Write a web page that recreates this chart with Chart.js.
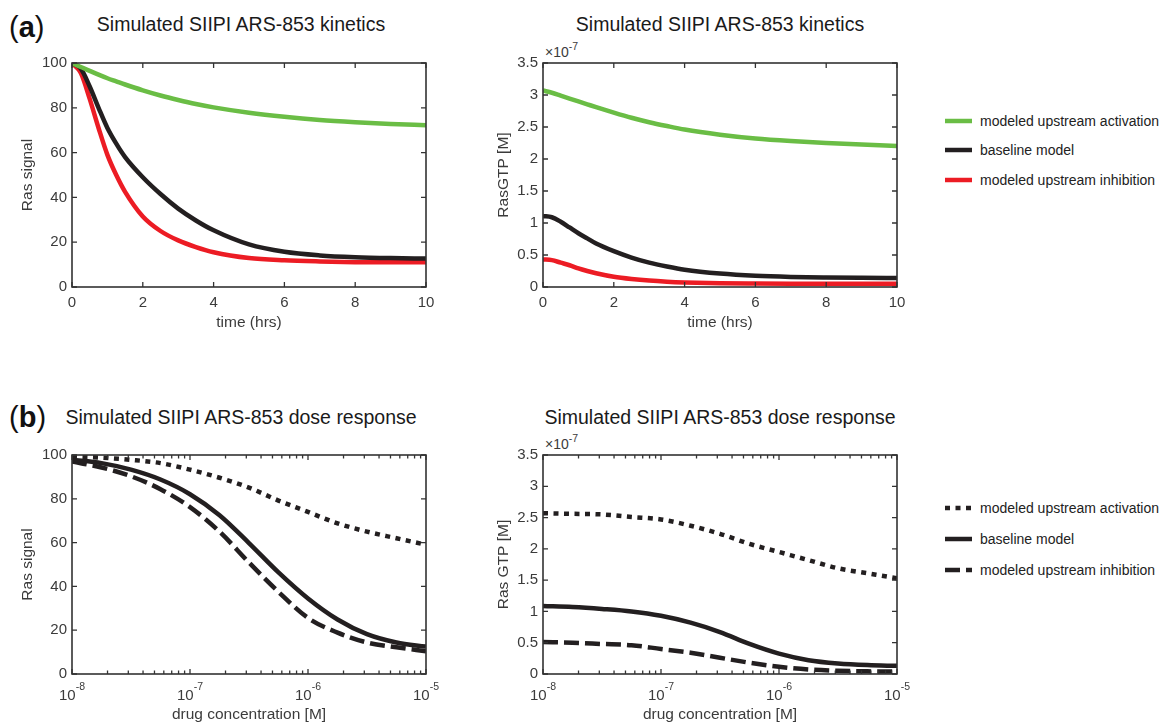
<!DOCTYPE html>
<html>
<head>
<meta charset="utf-8">
<title>Simulated SIIPI ARS-853</title>
<script src="https://cdn.jsdelivr.net/npm/chart.js@4.4.1/dist/chart.umd.min.js"></script>
<style>
    body {
        margin: 0;
        width: 1162px;
        height: 723px;
        position: relative;
        overflow: hidden;
        background: #fff;
        font-family: "Liberation Sans", Arial, Helvetica, sans-serif;
    }
    canvas { position: absolute; }
    .title {
        position: absolute;
        font-size: 19.5px;
        color: #1a1a1a;
        white-space: nowrap;
        transform: translate(-50%, -50%);
    }
    .panel {
        position: absolute;
        left: 9px;
        font-size: 29px;
        line-height: 30px;
        color: #111;
    }
    .panel b { font-weight: bold; }
    .exp {
        position: absolute;
        font-size: 14px;
        line-height: 14px;
        color: #3b3b3b;
        white-space: nowrap;
    }
    .exp span { position: relative; top: -7px; font-size: 10.5px; }
    .legend-row {
        position: absolute;
        left: 945px;
        height: 20px;
        display: flex;
        align-items: center;
        font-size: 14px;
        color: #222;
        white-space: nowrap;
    }
    .legend-row svg { margin-right: 8px; }
</style>
</head>
<body>

<div class="panel" style="top:12px">(<b>a</b>)</div>
<div class="panel" style="top:402px">(<b>b</b>)</div>

<div class="title" style="left:241px; top:24px">Simulated SIIPI ARS-853 kinetics</div>
<div class="title" style="left:720px; top:24px">Simulated SIIPI ARS-853 kinetics</div>
<div class="title" style="left:241px; top:417px">Simulated SIIPI ARS-853 dose response</div>
<div class="title" style="left:720px; top:417px">Simulated SIIPI ARS-853 dose response</div>

<div class="exp" style="left:545px; top:45px">&times;10<span>-7</span></div>
<div class="exp" style="left:545px; top:437px">&times;10<span>-7</span></div>

<canvas id="kinSignal" width="434" height="288" style="left:12px; top:49px"></canvas>
<canvas id="kinGtp" width="434" height="288" style="left:483px; top:49px"></canvas>
<canvas id="doseSignal" width="434" height="283" style="left:12px; top:441px"></canvas>
<canvas id="doseGtp" width="434" height="283" style="left:483px; top:441px"></canvas>

<div id="legendA"></div>
<div id="legendB"></div>

<script>
// ---- (a) kinetics, time in hours ----
var timeHrs = [0, 0.25, 0.5, 0.75, 1, 1.25, 1.5, 2, 2.5, 3, 3.5, 4, 5, 6, 7, 8, 9, 10];

// Ras signal (% of start)
var signalUp   = [100, 98.2, 96.5, 94.8, 93.2, 91.8, 90.4, 87.8, 85.5, 83.5, 81.7, 80.2, 77.8, 76.0, 74.6, 73.6, 72.8, 72.2];
var signalBase = [100, 97.5, 89.5, 80, 71, 64, 58, 49, 41.5, 35, 29.7, 25.3, 19, 15.7, 14.1, 13.3, 12.9, 12.7];
var signalDown = [100, 95.5, 84, 71, 59, 50, 42.5, 31.5, 25, 20.8, 17.8, 15.5, 12.9, 11.9, 11.4, 11.1, 11, 11];

// RasGTP, in units of 1e-7 M
var gtpUp   = [3.07, 3.035, 2.99, 2.945, 2.90, 2.855, 2.81, 2.725, 2.645, 2.575, 2.515, 2.46, 2.38, 2.32, 2.28, 2.25, 2.225, 2.205];
var gtpBase = [1.11, 1.09, 1.02, 0.93, 0.84, 0.76, 0.68, 0.56, 0.46, 0.38, 0.32, 0.27, 0.21, 0.175, 0.157, 0.148, 0.143, 0.14];
var gtpDown = [0.43, 0.42, 0.38, 0.34, 0.29, 0.25, 0.215, 0.16, 0.125, 0.10, 0.083, 0.072, 0.06, 0.055, 0.052, 0.05, 0.05, 0.05];

// ---- (b) dose response, drug concentration in M ----
var doseM = [1e-8, 1.78e-8, 3.16e-8, 5.62e-8, 1e-7, 1.78e-7, 3.16e-7, 5.62e-7, 1e-6, 1.78e-6, 3.16e-6, 5.62e-6, 1e-5];

var doseSignalUp   = [99.3, 98.8, 97.8, 96.3, 93.3, 89.6, 85.1, 79.2, 74, 68.8, 65, 62, 59];
var doseSignalBase = [97.8, 96.3, 93.3, 88.8, 82.1, 72.5, 59.8, 46.4, 34.5, 24.9, 18.2, 14.4, 12.5];
var doseSignalDown = [97, 94.3, 90.3, 84.4, 76.2, 65, 50.9, 37.5, 25.6, 18.9, 14.4, 12.2, 10.4];

var doseGtpUp   = [2.57, 2.56, 2.55, 2.51, 2.47, 2.37, 2.24, 2.08, 1.95, 1.82, 1.69, 1.61, 1.53];
var doseGtpBase = [1.086, 1.07, 1.04, 1.0, 0.93, 0.82, 0.67, 0.48, 0.325, 0.22, 0.168, 0.142, 0.13];
var doseGtpDown = [0.51, 0.50, 0.48, 0.46, 0.40, 0.34, 0.26, 0.18, 0.115, 0.073, 0.052, 0.042, 0.04];

// ---- ticks ----
var timeTicks = [0, 2, 4, 6, 8, 10];
var signalTicks = [0, 20, 40, 60, 80, 100];
var gtpTicks = [0, 0.5, 1, 1.5, 2, 2.5, 3, 3.5];
var doseTicks = [1e-8, 1e-7, 1e-6, 1e-5];
var doseTickExp = ['-8', '-7', '-6', '-5'];

var seriesNames = ['modeled upstream activation', 'baseline model', 'modeled upstream inhibition'];

var GREEN = '#6abd45', BLACK = '#231f20', RED = '#ec1c24';
var AXIS = '#333333', TEXT = '#3b3b3b';
var FONT = '"Liberation Sans", Arial, Helvetica, sans-serif';
var DOTTED = [5, 5.5], DASHED = [15, 6];

function pts(xs, ys) {
    return xs.map(function (x, i) { return {x: x, y: ys[i]}; });
}

function fixedTicks(values) {
    return function (scale) {
        scale.ticks = values.map(function (v) { return {value: v}; });
    };
}

// MATLAB style box with inward ticks on all four sides
function boxAxes(minorX, logExp) {
    return {
        id: 'boxAxes',
        afterDatasetsDraw: function (chart) {
            var ctx = chart.ctx, a = chart.chartArea;
            var xs = chart.scales.x, ys = chart.scales.y;
            ctx.save();
            ctx.strokeStyle = AXIS;
            ctx.lineWidth = 1.3;
            ctx.beginPath();
            function xTick(v, len) {
                var p = xs.getPixelForValue(v);
                ctx.moveTo(p, a.bottom); ctx.lineTo(p, a.bottom - len);
                ctx.moveTo(p, a.top); ctx.lineTo(p, a.top + len);
            }
            function yTick(v, len) {
                var p = ys.getPixelForValue(v);
                ctx.moveTo(a.left, p); ctx.lineTo(a.left + len, p);
                ctx.moveTo(a.right, p); ctx.lineTo(a.right - len, p);
            }
            xs.ticks.forEach(function (t) { xTick(t.value, 5); });
            minorX.forEach(function (v) { xTick(v, 3.5); });
            ys.ticks.forEach(function (t) { yTick(t.value, 5); });
            ctx.stroke();
            ctx.lineWidth = 1.6;
            ctx.strokeRect(a.left, a.top, a.right - a.left, a.bottom - a.top);

            // 10^n labels for the log axis
            if (logExp) {
                ctx.fillStyle = TEXT;
                ctx.textAlign = 'left';
                ctx.textBaseline = 'alphabetic';
                xs.ticks.forEach(function (t, i) {
                    var p = xs.getPixelForValue(t.value);
                    ctx.font = '15px ' + FONT;
                    var w1 = ctx.measureText('10').width;
                    ctx.font = '10.5px ' + FONT;
                    var w2 = ctx.measureText(logExp[i]).width;
                    var x0 = p - (w1 + w2) / 2;
                    ctx.font = '15px ' + FONT;
                    ctx.fillText('10', x0, a.bottom + 26);
                    ctx.font = '10.5px ' + FONT;
                    ctx.fillText(logExp[i], x0 + w1, a.bottom + 16);
                });
            }
            ctx.restore();
        }
    };
}

function line(label, data, color, dash) {
    return {
        label: label,
        data: data,
        borderColor: color,
        borderWidth: 4.5,
        borderDash: dash || [],
        borderCapStyle: 'butt',
        borderJoinStyle: 'round',
        pointRadius: 0,
        fill: false,
        cubicInterpolationMode: 'monotone'
    };
}

function makeChart(id, cfg) {
    var xAxis = {
        type: cfg.xType,
        min: cfg.xMin,
        max: cfg.xMax,
        afterBuildTicks: fixedTicks(cfg.xTicks),
        afterFit: function (s) { s.height = 50; },
        grid: { display: false, drawTicks: false },
        border: { display: false },
        ticks: {
            display: cfg.xType !== 'logarithmic',
            padding: 7,
            color: TEXT,
            font: { family: FONT, size: 15 },
            maxRotation: 0,
            callback: function (v) { return String(v); }
        },
        title: {
            display: true,
            text: cfg.xTitle,
            color: TEXT,
            font: { family: FONT, size: 15.5 },
            padding: { top: 0, bottom: cfg.xTitlePad }
        }
    };
    var yAxis = {
        type: 'linear',
        min: cfg.yMin,
        max: cfg.yMax,
        afterBuildTicks: fixedTicks(cfg.yTicks),
        afterFit: function (s) { s.width = 60; },
        grid: { display: false, drawTicks: false },
        border: { display: false },
        ticks: {
            padding: 5,
            color: TEXT,
            font: { family: FONT, size: 15 },
            callback: function (v) { return String(v); }
        },
        title: {
            display: true,
            text: cfg.yTitle,
            color: TEXT,
            font: { family: FONT, size: 15.5 },
            padding: { top: cfg.yTitlePad, bottom: 0 }
        }
    };
    return new Chart(document.getElementById(id), {
        type: 'line',
        data: { datasets: cfg.datasets },
        options: {
            responsive: false,
            animation: false,
            devicePixelRatio: 1,
            layout: { padding: { left: 0, top: 10, right: 20, bottom: 0 } },
            plugins: { legend: { display: false }, tooltip: { enabled: false } },
            scales: { x: xAxis, y: yAxis }
        },
        plugins: [boxAxes(cfg.minorX || [], cfg.logExp)]
    });
}

// minor tick positions on the log axis (2..9 in every decade)
var doseMinor = [];
for (var d = 0; d < doseTicks.length - 1; d++) {
    for (var m = 2; m <= 9; m++) doseMinor.push(m * doseTicks[d]);
}

makeChart('kinSignal', {
    xType: 'linear', xMin: 0, xMax: 10, xTicks: timeTicks, xTitle: 'time (hrs)', xTitlePad: 5,
    yMin: 0, yMax: 100, yTicks: signalTicks, yTitle: 'Ras signal', yTitlePad: 6,
    datasets: [
        line(seriesNames[0], pts(timeHrs, signalUp), GREEN),
        line(seriesNames[1], pts(timeHrs, signalBase), BLACK),
        line(seriesNames[2], pts(timeHrs, signalDown), RED)
    ]
});

makeChart('kinGtp', {
    xType: 'linear', xMin: 0, xMax: 10, xTicks: timeTicks, xTitle: 'time (hrs)', xTitlePad: 5,
    yMin: 0, yMax: 3.5, yTicks: gtpTicks, yTitle: 'RasGTP [M]', yTitlePad: 11,
    datasets: [
        line(seriesNames[0], pts(timeHrs, gtpUp), GREEN),
        line(seriesNames[1], pts(timeHrs, gtpBase), BLACK),
        line(seriesNames[2], pts(timeHrs, gtpDown), RED)
    ]
});

makeChart('doseSignal', {
    xType: 'logarithmic', xMin: 1e-8, xMax: 1e-5, xTicks: doseTicks, xTitle: 'drug concentration [M]', xTitlePad: 0,
    minorX: doseMinor, logExp: doseTickExp,
    yMin: 0, yMax: 100, yTicks: signalTicks, yTitle: 'Ras signal', yTitlePad: 6,
    datasets: [
        line(seriesNames[0], pts(doseM, doseSignalUp), BLACK, DOTTED),
        line(seriesNames[1], pts(doseM, doseSignalBase), BLACK),
        line(seriesNames[2], pts(doseM, doseSignalDown), BLACK, DASHED)
    ]
});

makeChart('doseGtp', {
    xType: 'logarithmic', xMin: 1e-8, xMax: 1e-5, xTicks: doseTicks, xTitle: 'drug concentration [M]', xTitlePad: 0,
    minorX: doseMinor, logExp: doseTickExp,
    yMin: 0, yMax: 3.5, yTicks: gtpTicks, yTitle: 'Ras GTP [M]', yTitlePad: 11,
    datasets: [
        line(seriesNames[0], pts(doseM, doseGtpUp), BLACK, DOTTED),
        line(seriesNames[1], pts(doseM, doseGtpBase), BLACK),
        line(seriesNames[2], pts(doseM, doseGtpDown), BLACK, DASHED)
    ]
});

// Legends (HTML, placed to the right of the right-hand panels)
function buildLegend(el, rowsY, colors, dashes) {
    var html = '';
    seriesNames.forEach(function (name, i) {
        var dash = dashes[i] ? ' stroke-dasharray="' + dashes[i].join(' ') + '"' : '';
        html += '<div class="legend-row" style="top:' + (rowsY[i] - 10) + 'px">' +
            '<svg width="27" height="10"><line x1="0" y1="5" x2="27" y2="5" stroke="' + colors[i] +
            '" stroke-width="4.5"' + dash + '/></svg>' + name + '</div>';
    });
    document.getElementById(el).innerHTML = html;
}

buildLegend('legendA', [121, 150, 180], [GREEN, BLACK, RED], [null, null, null]);
buildLegend('legendB', [508, 539, 570], [BLACK, BLACK, BLACK], [DOTTED, null, DASHED]);
</script>
</body>
</html>
